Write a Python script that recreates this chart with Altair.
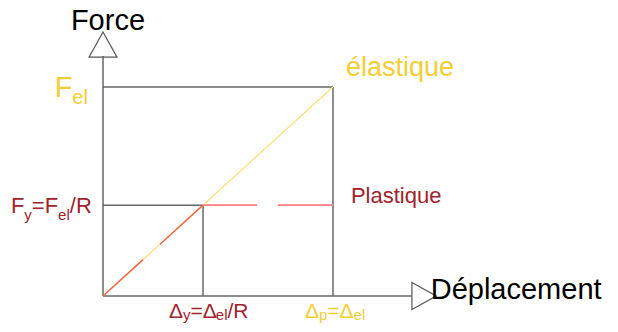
import altair as alt
import pandas as pd

# ---- model values (data units: Force / F_el, Deplacement / Delta_el) ----
F_EL = 1.0
DELTA_EL = 1.0
R = 2.3
F_Y = F_EL / R
DELTA_Y = DELTA_EL / R

# axis extents and arrow head positions (data units)
Y_AXIS_TOP = 1.148
X_AXIS_END = 1.343
ARROW_UP = (0.0, 1.203)
ARROW_RIGHT = (1.396, 0.0)

# gaps drawn in the original sketch
RED_DIAG_GAP = (0.174, 0.248)
PLASTIC_GAP = (0.67, 0.76)

GREY = "#676767"
GOLD = "#f5cd34"
YELLOW_LINE = "#ffdc6a"
DARK_RED = "#a1232b"
RED_DIAG = "#f0654a"
RED_PLASTIC = "#ff7f7f"

seg_x = [0, 0, 0, DELTA_EL, 0, DELTA_Y,
         0,
         0, RED_DIAG_GAP[1],
         DELTA_Y, PLASTIC_GAP[1]]
seg_y = [0, 0, F_EL, 0, F_Y, 0,
         0,
         0, RED_DIAG_GAP[1] * F_EL / DELTA_EL,
         F_Y, F_Y]
seg_x2 = [0, X_AXIS_END, DELTA_EL, DELTA_EL, DELTA_Y, DELTA_Y,
          DELTA_EL,
          RED_DIAG_GAP[0], DELTA_Y,
          PLASTIC_GAP[0], DELTA_EL]
seg_y2 = [Y_AXIS_TOP, 0, F_EL, F_EL, F_Y, F_Y,
          F_EL,
          RED_DIAG_GAP[0] * F_EL / DELTA_EL, F_Y,
          F_Y, F_Y]
seg_color = [GREY] * 6 + [YELLOW_LINE] + [RED_DIAG] * 2 + [RED_PLASTIC] * 2
seg_width = [1.5] * 6 + [1.1] + [1.4] * 2 + [1.6] * 2

segments = pd.DataFrame({"x": seg_x, "y": seg_y, "x2": seg_x2, "y2": seg_y2,
                         "c": seg_color, "w": seg_width})

# ---- text pieces (main text + subscripts) ----
txt = ["Force", "Déplacement", "élastique", "Plastique",
       "F", "el",
       "F", "y", "=F", "el", "/R",
       "Δ", "y", "=Δ", "el", "/R",
       "Δ", "p", "=Δ", "el"]
txt_x = [-0.1396, 1.4248, 1.0565, 1.078,
         -0.210, -0.1335,
         -0.4004, -0.3422, -0.3096, -0.1952, -0.1443,
         0.2870, 0.3478, 0.3804, 0.4904, 0.5413,
         0.8783, 0.9391, 0.9752, 1.0896]
txt_y = [1.271, -0.0158, 1.054, 0.4435,
         0.952, 0.919,
         0.3957, 0.366, 0.3957, 0.366, 0.3957,
         -0.1053, -0.1172, -0.1053, -0.1172, -0.1053,
         -0.1053, -0.1172, -0.1053, -0.1172]
txt_size = [29, 29, 27, 22,
            29, 20,
            22, 15, 22, 15, 22,
            21, 15, 21, 15, 21,
            21, 15, 21, 15]
txt_color = ["#000000", "#000000", GOLD, DARK_RED,
             GOLD, GOLD,
             DARK_RED, DARK_RED, DARK_RED, DARK_RED, DARK_RED,
             DARK_RED, DARK_RED, DARK_RED, DARK_RED, DARK_RED,
             GOLD, GOLD, GOLD, GOLD]

labels = pd.DataFrame({"t": txt, "x": txt_x, "y": txt_y,
                       "s": txt_size, "c": txt_color})

arrows_up = pd.DataFrame({"x": [ARROW_UP[0]], "y": [ARROW_UP[1]]})
arrows_right = pd.DataFrame({"x": [ARROW_RIGHT[0]], "y": [ARROW_RIGHT[1]]})

# plot cell spans page x 8..610, y 8..324
xs = alt.Scale(domain=[-95 / 230, 507 / 230], nice=False, zero=False)
ys = alt.Scale(domain=[-28 / 209, 288 / 209], nice=False, zero=False)

X = lambda f="x": alt.X(f, type="quantitative", scale=xs, axis=None)
Y = lambda f="y": alt.Y(f, type="quantitative", scale=ys, axis=None)

lines = alt.Chart(segments).mark_rule(strokeCap="butt").encode(
    x=X(), y=Y(), x2="x2:Q", y2="y2:Q",
    color=alt.Color("c:N", scale=None),
    strokeWidth=alt.StrokeWidth("w:Q", scale=None),
)

up = alt.Chart(arrows_up).mark_point(
    shape="M-1,0.9L0,-0.9L1,0.9Z", size=784, filled=False,
    stroke="#555555", strokeWidth=1.2, opacity=1,
).encode(x=X(), y=Y())

right = alt.Chart(arrows_right).mark_point(
    shape="M-0.9,-1L0.9,0L-0.9,1Z", size=729, filled=False,
    stroke="#555555", strokeWidth=1.2, opacity=1,
).encode(x=X(), y=Y())

texts = alt.Chart(labels).mark_text(
    align="left", baseline="alphabetic", font="Liberation Sans",
).encode(
    x=X(), y=Y(), text="t:N",
    size=alt.Size("s:Q", scale=None),
    color=alt.Color("c:N", scale=None),
)

chart = alt.layer(lines, up, right, texts).properties(
    width=602, height=316, padding=0,
    autosize=alt.AutoSizeParams(type="none"),
).configure(background="white").configure_view(stroke="transparent", strokeWidth=0)

chart.save("out.html", embed_options={"renderer": "svg", "actions": False})
